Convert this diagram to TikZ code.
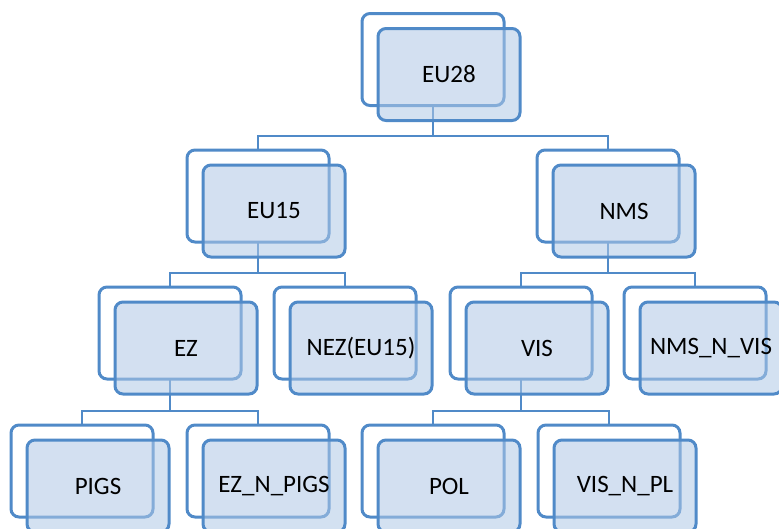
\documentclass[tikz,border=0pt]{standalone}
\usepackage{fontspec}
\setmainfont{Carlito}
\usetikzlibrary{calc}
\definecolor{boxline}{RGB}{80,138,200}
\definecolor{boxfill}{RGB}{175,200,230}
\begin{document}
\begin{tikzpicture}[x=1pt,y=-1pt,
  backbox/.style={draw=boxline,line width=3pt,rounded corners=8pt,fill=white,
    minimum width=142pt,minimum height=92pt,inner sep=0pt,outer sep=0pt},
  frontbox/.style={draw=boxline,line width=3pt,rounded corners=8pt,fill=boxfill,fill opacity=0.55,
    text opacity=1,minimum width=142pt,minimum height=92pt,inner sep=0pt,outer sep=0pt,
    font=\fontsize{25}{30}\selectfont,text=black},
  conn/.style={draw=boxline,line width=2.7pt}]
\useasboundingbox (0,0) rectangle (779,528);
% junction coordinates
\coordinate (j1) at (433,136);
\coordinate (j2a) at (258,273);
\coordinate (j2b) at (608,273);
\coordinate (j3a) at (170,411);
\coordinate (j3b) at (521,411);
% back box centers (used for connectors)
\path (433,59.5) coordinate (cEU28)
      (258,196) coordinate (cEU15)
      (608,196) coordinate (cNMS)
      (170,333) coordinate (cEZ)
      (345,333) coordinate (cNEZ)
      (521,333) coordinate (cVIS)
      (695,333) coordinate (cNMSNVIS)
      (82,471) coordinate (cPIGS)
      (258,471) coordinate (cEZNPIGS)
      (433,471) coordinate (cPOL)
      (609,471) coordinate (cVISNPL);
% connectors
\draw[conn] (cEU28) -- (j1);
\draw[conn] (cEU15) |- (j1) -| (cNMS);
\draw[conn] (cEU15) -- (j2a);
\draw[conn] (cEZ) |- (j2a) -| (cNEZ);
\draw[conn] (cNMS) -- (j2b);
\draw[conn] (cVIS) |- (j2b) -| (cNMSNVIS);
\draw[conn] (cEZ) -- (j3a);
\draw[conn] (cPIGS) |- (j3a) -| (cEZNPIGS);
\draw[conn] (cVIS) -- (j3b);
\draw[conn] (cPOL) |- (j3b) -| (cVISNPL);
% boxes
\foreach \c/\t in {EU28/EU28,EU15/EU15,NMS/NMS,EZ/EZ,NEZ/NEZ(EU15),VIS/VIS,NMSNVIS/NMS\_N\_VIS,PIGS/PIGS,EZNPIGS/EZ\_N\_PIGS,POL/POL,VISNPL/VIS\_N\_PL}{
  \node[backbox] (b\c) at (c\c) {};
  \node[frontbox] (\c) at ($(c\c)+(16,15)$) {\t};
}
\end{tikzpicture}
\end{document}
